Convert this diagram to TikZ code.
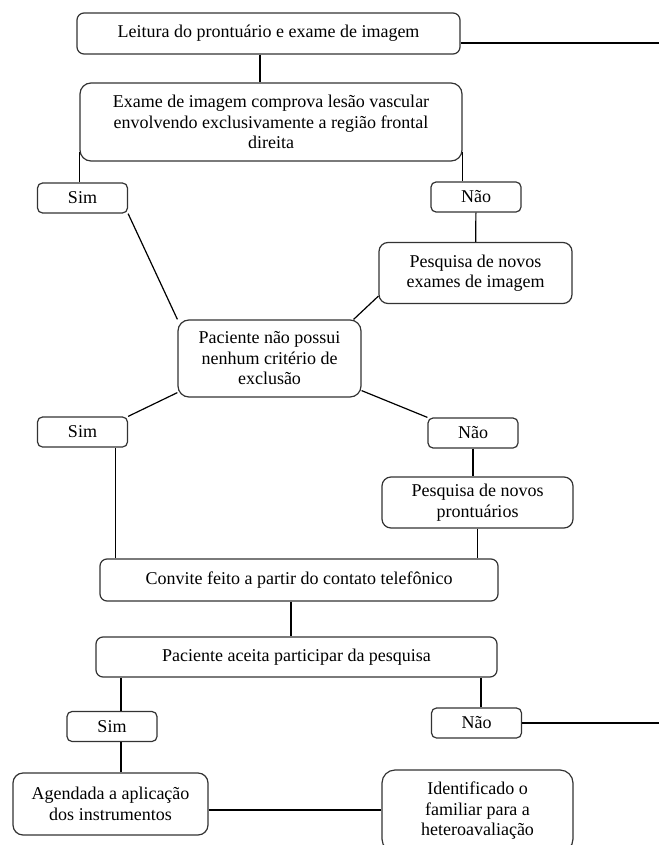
\documentclass[tikz,border=0pt]{standalone}
\usepackage{fontspec}
\setmainfont{Liberation Serif}
\begin{document}
\begin{tikzpicture}[x=1pt,y=-1pt,line width=1.2pt,
  caixa/.style={draw=black!80,rounded corners=7pt,align=center,inner sep=0pt,
    font=\fontsize{18}{20.5}\selectfont},
  resposta/.style={caixa,minimum width=90pt,minimum height=30pt,rounded corners=5pt}]
\useasboundingbox (0,0) rectangle (659,845);
\coordinate (saida1) at (659,43);
\coordinate (saida2) at (659,723);
\node[caixa,minimum width=383pt,minimum height=41pt] (leitura) at (268.5,33.5) {Leitura do prontuário\ e exame\ de imagem};
\node[caixa,minimum width=382pt,minimum height=78pt,rounded corners=11pt] (exame) at (271,122)
  {Exame de imagem comprova\ lesão\ vascular\\ envolvendo exclusivamente\ a região\ frontal\\ direita};
\node[resposta] (sim1) at (82.5,198) {Sim};
\node[resposta] (nao1) at (476,197) {Não};
\node[caixa,minimum width=193pt,minimum height=61pt,rounded corners=9pt] (pesqexames) at (475.5,273)
  {Pesquisa de novos\\ exames\ de imagem};
\node[caixa,minimum width=183pt,minimum height=77pt,rounded corners=11pt] (paciente) at (269.5,358.5)
  {Paciente não possui\\ nenhum critério\ de\\ exclusão};
\node[resposta] (sim2) at (82.5,432) {Sim};
\node[resposta] (nao2) at (473,433) {Não};
\node[caixa,minimum width=191pt,minimum height=51pt,rounded corners=9pt] (pesqpront) at (477.5,502.5)
  {Pesquisa de novos\\ prontuários};
\node[caixa,minimum width=398pt,minimum height=42pt] (convite) at (299,580) {Convite feito a partir\ do contato\ telefônico};
\node[caixa,minimum width=401pt,minimum height=40pt] (aceita) at (296.5,657) {Paciente aceita participar\ da pesquisa};
\node[resposta] (sim3) at (112,726.5) {Sim};
\node[resposta] (nao3) at (476.5,723) {Não};
\node[caixa,minimum width=195pt,minimum height=62pt,rounded corners=10pt] (agendada) at (110.5,804)
  {Agendada a aplicação\\ dos instrumentos};
\node[caixa,minimum width=191pt,minimum height=82pt,rounded corners=13pt] (identif) at (477.5,811)
  {Identificado\ o\\ familiar para\ a\\ heteroavaliação};
\draw ([xshift=-8.5pt]leitura.south) -- ([xshift=-8.5pt]leitura.south |- exame.north);
\draw (leitura.east |- saida1) -- (saida1);
\draw ([yshift=10pt]exame.south west) -- (exame.west |- sim1.north);
\draw ([yshift=10pt]exame.south east) -- (exame.east |- nao1.north);
\draw (sim1.south east) -- (paciente.north west);
\draw (nao1) -- (pesqexames);
\draw ([yshift=8pt]pesqexames.south west) -- ([xshift=-8pt]paciente.north east);
\draw ([yshift=5pt]paciente.south west) -- (sim2.north east);
\draw ([yshift=7pt]paciente.south east) -- (nao2.north west);
\draw (nao2.south) -- (nao2.south |- pesqpront.north);
\draw (pesqpront.south) -- (pesqpront.south |- convite.north);
\draw ([xshift=16pt]convite.north west) -- ([xshift=16pt]convite.north west |- sim2.south);
\draw ([xshift=-8pt]convite.south) -- ([xshift=-8pt]convite.south |- aceita.north);
\draw ([xshift=9pt]sim3.north) -- ([xshift=9pt]sim3.north |- aceita.south);
\draw ([xshift=9pt]sim3.south) -- ([xshift=9pt]sim3.south |- agendada.north);
\draw ([xshift=4.5pt]nao3.north) -- ([xshift=4.5pt]nao3.north |- aceita.south);
\draw (nao3.east) -- (saida2);
\draw ([yshift=-6pt]agendada.east) -- ([yshift=-6pt]agendada.east -| identif.west);
\end{tikzpicture}
\end{document}
